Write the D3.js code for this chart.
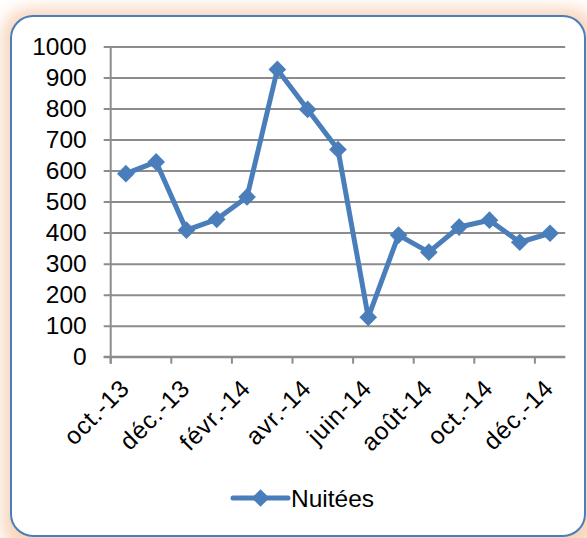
<!DOCTYPE html>
<html>
<head>
<meta charset="utf-8">
<script src="https://cdn.jsdelivr.net/npm/d3@7"></script>
<style>
  body { margin: 0; background: #fff; }
  text { font-family: "Liberation Sans", Arial, sans-serif; fill: #000; }
</style>
</head>
<body>
<div id="chart"></div>
<script>
// data
const months = ["oct.-13", "nov.-13", "déc.-13", "janv.-14", "févr.-14", "mars-14", "avr.-14",
  "mai-14", "juin-14", "juil.-14", "août-14", "sept.-14", "oct.-14", "nov.-14", "déc.-14"]
const nuitees = [590, 628, 408, 443, 515, 926, 797, 668, 127, 392, 337, 418, 440, 369, 398]
const yTicks = [0, 100, 200, 300, 400, 500, 600, 700, 800, 900, 1000]
const seriesName = "Nuitées"

const W = 587, H = 538
const plot = { left: 110.7, right: 565.2, top: 46.5, bottom: 356.7 }
const blue = "#4a7ebb"

const svg = d3.select("#chart").append("svg")
  .attr("width", W)
  .attr("height", H)

// peach glow behind the frame
const defs = svg.append("defs")
defs.append("filter").attr("id", "glow")
  .attr("x", "-20%").attr("y", "-20%").attr("width", "140%").attr("height", "140%")
  .append("feGaussianBlur").attr("stdDeviation", 8)

svg.append("rect")
  .attr("x", 0).attr("y", 0).attr("width", W).attr("height", H)
  .attr("fill", "#fff")

svg.append("rect")
  .attr("x", 2).attr("y", 8).attr("width", 595).attr("height", 545)
  .attr("rx", 28)
  .attr("fill", "#f8d5bc")
  .attr("filter", "url(#glow)")

svg.append("rect")
  .attr("x", 11).attr("y", 16).attr("width", 574).attr("height", 520)
  .attr("rx", 22)
  .attr("fill", "#fff")
  .attr("stroke", blue)
  .attr("stroke-width", 2)

// scales
const xScale = d3.scaleBand()
  .domain(months)
  .range([plot.left, plot.right])
  .padding(0)

const yScale = d3.scaleLinear()
  .domain([0, 1000])
  .range([plot.bottom, plot.top])

// gridlines + y axis
const yAxis = d3.axisLeft(yScale)
  .tickValues(yTicks)
  .tickFormat(d3.format("d"))
  .tickSize(7)
  .tickPadding(17)

const gy = svg.append("g")
  .attr("transform", `translate(${plot.left},0)`)
  .call(yAxis)
gy.select(".domain").remove()
gy.selectAll(".tick line")
  .attr("x1", -7).attr("x2", plot.right - plot.left)
  .attr("stroke", "#8c8c8c").attr("stroke-width", 2)
gy.selectAll(".tick text")
  .attr("font-size", "24.5px")
  .attr("font-family", "Liberation Sans, Arial, sans-serif")
  .attr("fill", "#000")

svg.append("line")
  .attr("x1", plot.left).attr("x2", plot.left)
  .attr("y1", plot.top).attr("y2", plot.bottom + 7)
  .attr("stroke", "#8c8c8c").attr("stroke-width", 2)

// x axis: ticks every two months
const shown = months.filter((d, i) => i % 2 === 0)
const gx = svg.append("g").attr("class", "x-axis")
gx.append("line")
  .attr("x1", plot.left - 7).attr("x2", plot.right)
  .attr("y1", plot.bottom).attr("y2", plot.bottom)
  .attr("stroke", "#8c8c8c").attr("stroke-width", 2)
gx.selectAll(".xtick")
  .data(shown)
  .enter()
  .append("line")
  .attr("x1", d => xScale(d)).attr("x2", d => xScale(d))
  .attr("y1", plot.bottom).attr("y2", plot.bottom + 7)
  .attr("stroke", "#8c8c8c").attr("stroke-width", 2)
gx.selectAll(".xlabel")
  .data(shown)
  .enter()
  .append("text")
  .attr("text-anchor", "end")
  .attr("font-size", "24.5px")
  .attr("letter-spacing", "0.8px")
  .attr("transform", d => `translate(${xScale(d) + xScale.bandwidth() / 2 + 5},${plot.bottom + 33}) rotate(-45)`)
  .text(d => d)

// line + markers
const cx = d => xScale(d) + xScale.bandwidth() / 2
const pts = months.map((m, i) => [cx(m), yScale(nuitees[i])])

svg.append("path")
  .attr("d", d3.line()(pts))
  .attr("fill", "none")
  .attr("stroke", blue)
  .attr("stroke-width", 5)
  .attr("stroke-linejoin", "round")

const diamond = d3.symbol().type(d3.symbolDiamond2).size(200)
svg.selectAll(".marker")
  .data(pts)
  .enter()
  .append("path")
  .attr("d", diamond)
  .attr("transform", d => `translate(${d[0]},${d[1]})`)
  .attr("fill", blue)

// legend
const lg = svg.append("g").attr("transform", "translate(233,498)")
lg.append("line").attr("x1", 0).attr("x2", 55).attr("y1", 0).attr("y2", 0)
  .attr("stroke", blue).attr("stroke-width", 5).attr("stroke-linecap", "round")
lg.append("path").attr("d", diamond).attr("transform", "translate(27.5,0)").attr("fill", blue)
lg.append("text").attr("x", 58).attr("y", 9).attr("font-size", "24.5px").text(seriesName)
</script>
</body>
</html>
